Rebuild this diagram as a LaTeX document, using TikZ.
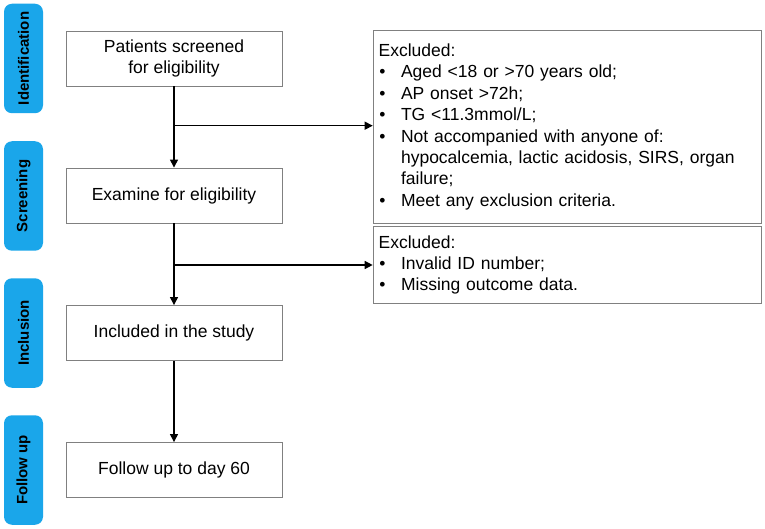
\documentclass[tikz,border=0pt]{standalone}
\usepackage{fontspec}
\setmainfont{Liberation Sans}
\usetikzlibrary{arrows.meta}
\definecolor{tabblue}{RGB}{26,166,234}
\definecolor{boxgray}{RGB}{128,128,128}
\newcommand\bitem[1]{\par\hangindent=22.4pt\hangafter=1\noindent\makebox[22.4pt][l]{\hspace{0.6pt}\textbullet}#1}
\tikzset{
  stage/.style={fill=tabblue, rounded corners=8pt, minimum width=39pt, minimum height=109.5pt, inner sep=0pt,
    font=\fontsize{15}{18}\selectfont\bfseries, text=black},
  stepbox/.style={draw=boxgray, line width=0.9pt, minimum width=216pt, minimum height=55pt, inner sep=0pt,
    align=center, font=\fontsize{17.5}{21.3}\selectfont},
  exclbox/.style={draw=boxgray, line width=0.9pt, minimum width=388pt, text width=377pt, inner xsep=5.5pt, inner ysep=0pt,
    align=left, font=\fontsize{17.5}{21.4}\selectfont},
  flow/.style={line width=1.4pt, -{Triangle[length=8pt,width=8pt]}}
}
\begin{document}
\begin{tikzpicture}[x=1pt,y=-1pt]
\useasboundingbox (0,0) rectangle (765,529);
\fill[white] (0,0) rectangle (765,529);
% stage tabs
\node[stage] (t1) at (23.5,58.5) {\rotatebox{90}{Identification}};
\node[stage] (t2) at (23.5,196) {\rotatebox{90}{Screening}};
\node[stage] (t3) at (23.5,333) {\rotatebox{90}{Inclusion}};
\node[stage] (t4) at (23.5,470) {\rotatebox{90}{Follow up}};
% main boxes
\node[stepbox] (b1) at (174,58.5) {Patients screened\\for eligibility};
\node[stepbox] (b2) at (174,195.5) {Examine for eligibility};
\node[stepbox] (b3) at (174,333) {Included in the study};
\node[stepbox] (b4) at (174,470) {Follow up to day 60};
% exclusion boxes
\node[exclbox, minimum height=193pt, anchor=north west] (e1) at (372.7,30) {%
Excluded:
\bitem{Aged <18 or >70 years old;}
\bitem{AP onset >72h;}
\bitem{TG <11.3mmol/L;}
\bitem{Not accompanied with anyone of:\newline hypocalcemia, lactic acidosis, SIRS, organ\newline failure;}
\bitem{Meet any exclusion criteria.}};
\node[exclbox, minimum height=77pt, anchor=north west] (e2) at (372.7,226) {%
Excluded:
\bitem{Invalid ID number;}
\bitem{Missing outcome data.}};
% connectors
\coordinate (j1) at (174,125.7);
\coordinate (j2) at (174,265);
\draw[flow] (b1) -- (b2);
\draw[flow] (b2) -- (b3);
\draw[flow] (b3) -- (b4);
\draw[flow] (j1) -- (j1 -| e1.west);
\draw[flow] (j2) -- (j2 -| e2.west);
\end{tikzpicture}
\end{document}
